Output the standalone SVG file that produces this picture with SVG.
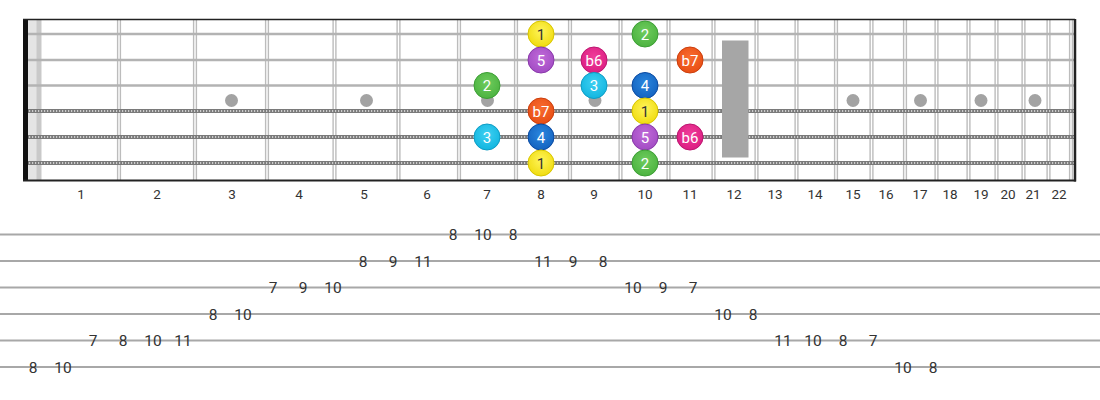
<svg xmlns="http://www.w3.org/2000/svg" width="1100" height="400" viewBox="0 0 1100 400">
<style>
.fret{stroke:#bcbcbc;stroke-width:1.4}
.plain{stroke:#b3b3b3;stroke-width:2.6}
.woundA{stroke:#7a7a7a;stroke-width:4}
.woundB{stroke:#e8e8e8;stroke-width:1.6;stroke-dasharray:1.2 1.8}
.inlay{fill:#a3a3a3}
.fnum{font-family:Roboto,"Liberation Sans",sans-serif;font-size:13.5px;fill:#333;text-anchor:middle}
.note text{font-family:Roboto,"Liberation Sans",sans-serif;font-size:15px;fill:#fff;text-anchor:middle}
.tabline{stroke:#a8a8a8;stroke-width:2}
.tab{font-family:Roboto,"Liberation Sans",sans-serif;font-size:15.5px;fill:#333;text-anchor:middle}
</style>
<defs>
<radialGradient id="gY" cx="50%" cy="40%" r="60%"><stop offset="0" stop-color="#fff45a"/><stop offset="1" stop-color="#f0dc10"/></radialGradient>
<radialGradient id="gG" cx="50%" cy="40%" r="60%"><stop offset="0" stop-color="#6fcc5e"/><stop offset="1" stop-color="#4cb340"/></radialGradient>
<radialGradient id="gC" cx="50%" cy="40%" r="60%"><stop offset="0" stop-color="#3fd0f2"/><stop offset="1" stop-color="#12b6e0"/></radialGradient>
<radialGradient id="gB" cx="50%" cy="40%" r="60%"><stop offset="0" stop-color="#2a86de"/><stop offset="1" stop-color="#1463c0"/></radialGradient>
<radialGradient id="gP" cx="50%" cy="40%" r="60%"><stop offset="0" stop-color="#c06ad8"/><stop offset="1" stop-color="#a24cc4"/></radialGradient>
<radialGradient id="gM" cx="50%" cy="40%" r="60%"><stop offset="0" stop-color="#f03e9a"/><stop offset="1" stop-color="#dc1e82"/></radialGradient>
<radialGradient id="gO" cx="50%" cy="40%" r="60%"><stop offset="0" stop-color="#f86c30"/><stop offset="1" stop-color="#e84e14"/></radialGradient>
<g id="fretline"><line class="fret" x1="-1.4" y1="20" x2="-1.4" y2="180"/><line class="fret" x1="1.4" y1="20" x2="1.4" y2="180"/></g>
</defs>
<rect width="1100" height="400" fill="#fff"/>
<g id="fretboard">
<rect x="28" y="20" width="9" height="160" fill="#e4e4e4"/>
<rect x="36.5" y="20" width="5" height="160" fill="#c9c9c9"/>
<use href="#fretline" x="119"/><use href="#fretline" x="195"/><use href="#fretline" x="267"/><use href="#fretline" x="334.5"/><use href="#fretline" x="398.5"/><use href="#fretline" x="459"/><use href="#fretline" x="516"/><use href="#fretline" x="570"/><use href="#fretline" x="620.5"/><use href="#fretline" x="668.5"/><use href="#fretline" x="713.5"/><use href="#fretline" x="756.5"/><use href="#fretline" x="796.5"/><use href="#fretline" x="836"/><use href="#fretline" x="871.5"/><use href="#fretline" x="905"/><use href="#fretline" x="936.5"/><use href="#fretline" x="968.5"/><use href="#fretline" x="996.5"/><use href="#fretline" x="1023.5"/><use href="#fretline" x="1048.5"/><use href="#fretline" x="1071"/>
<circle class="inlay" cx="231.5" cy="100.5" r="6.5"/>
<circle class="inlay" cx="366.5" cy="100.5" r="6.5"/>
<circle class="inlay" cx="487.5" cy="100.5" r="6.5"/>
<circle class="inlay" cx="595" cy="100.5" r="6.5"/>
<circle class="inlay" cx="853" cy="100.5" r="6.5"/>
<circle class="inlay" cx="920.5" cy="100.5" r="6.5"/>
<circle class="inlay" cx="981" cy="100.5" r="6.5"/>
<circle class="inlay" cx="1035" cy="100.5" r="6.5"/>
<line class="plain" x1="23" y1="34" x2="1075" y2="34"/>
<line class="plain" x1="23" y1="60" x2="1075" y2="60"/>
<line class="plain" x1="23" y1="85.5" x2="1075" y2="85.5"/>
<line class="woundA" x1="23" y1="111" x2="1075" y2="111"/><line class="woundB" x1="23" y1="111" x2="1075" y2="111"/>
<line class="woundA" x1="23" y1="137" x2="1075" y2="137"/><line class="woundB" x1="23" y1="137" x2="1075" y2="137"/>
<line class="woundA" x1="23" y1="163" x2="1075" y2="163"/><line class="woundB" x1="23" y1="163" x2="1075" y2="163"/>
<rect x="722" y="40.5" width="26.5" height="117" fill="#a6a6a6"/>
<rect x="23" y="19" width="5" height="162" fill="#111"/>
<line x1="23" y1="19.5" x2="1075" y2="19.5" stroke="#222" stroke-width="1.5"/>
<line x1="23" y1="180.5" x2="1076" y2="180.5" stroke="#222" stroke-width="2"/>
<line x1="1075" y1="19" x2="1075" y2="181.5" stroke="#222" stroke-width="2.5"/>
</g>
<g id="fret-numbers">
<text class="fnum" x="81" y="199">1</text><text class="fnum" x="157" y="199">2</text><text class="fnum" x="232" y="199">3</text><text class="fnum" x="299" y="199">4</text><text class="fnum" x="364" y="199">5</text><text class="fnum" x="427" y="199">6</text><text class="fnum" x="487" y="199">7</text><text class="fnum" x="541" y="199">8</text><text class="fnum" x="594" y="199">9</text><text class="fnum" x="645" y="199">10</text><text class="fnum" x="690" y="199">11</text><text class="fnum" x="734" y="199">12</text><text class="fnum" x="775" y="199">13</text><text class="fnum" x="815" y="199">14</text><text class="fnum" x="853" y="199">15</text><text class="fnum" x="886" y="199">16</text><text class="fnum" x="920" y="199">17</text><text class="fnum" x="950" y="199">18</text><text class="fnum" x="981" y="199">19</text><text class="fnum" x="1008" y="199">20</text><text class="fnum" x="1033" y="199">21</text><text class="fnum" x="1059" y="199">22</text>
</g>
<g id="notes">
<g id="n-s1-f8" class="note"><circle cx="541" cy="34" r="13" fill="url(#gY)" stroke="#d8c600" stroke-width="1"/><text x="541" y="39.5" style="fill:#333">1</text></g>
<g id="n-s1-f10" class="note"><circle cx="645" cy="34" r="13" fill="url(#gG)" stroke="#3c9e34" stroke-width="1"/><text x="645" y="39.5">2</text></g>
<g id="n-s2-f8" class="note"><circle cx="541" cy="60" r="13" fill="url(#gP)" stroke="#8a38aa" stroke-width="1"/><text x="541" y="65.5">5</text></g>
<g id="n-s2-f9" class="note"><circle cx="594" cy="60" r="13" fill="url(#gM)" stroke="#bc1670" stroke-width="1"/><text x="594" y="65.5">b6</text></g>
<g id="n-s2-f11" class="note"><circle cx="690" cy="60" r="13" fill="url(#gO)" stroke="#cc3e0c" stroke-width="1"/><text x="690" y="65.5">b7</text></g>
<g id="n-s3-f7" class="note"><circle cx="487" cy="85.5" r="13" fill="url(#gG)" stroke="#3c9e34" stroke-width="1"/><text x="487" y="91">2</text></g>
<g id="n-s3-f9" class="note"><circle cx="594" cy="85.5" r="13" fill="url(#gC)" stroke="#0e9cc4" stroke-width="1"/><text x="594" y="91">3</text></g>
<g id="n-s3-f10" class="note"><circle cx="645" cy="85.5" r="13" fill="url(#gB)" stroke="#0a4aa2" stroke-width="1"/><text x="645" y="91">4</text></g>
<g id="n-s4-f8" class="note"><circle cx="541" cy="111" r="13" fill="url(#gO)" stroke="#cc3e0c" stroke-width="1"/><text x="541" y="116.5">b7</text></g>
<g id="n-s4-f10" class="note"><circle cx="645" cy="111" r="13" fill="url(#gY)" stroke="#d8c600" stroke-width="1"/><text x="645" y="116.5" style="fill:#333">1</text></g>
<g id="n-s5-f7" class="note"><circle cx="487" cy="137" r="13" fill="url(#gC)" stroke="#0e9cc4" stroke-width="1"/><text x="487" y="142.5">3</text></g>
<g id="n-s5-f8" class="note"><circle cx="541" cy="137" r="13" fill="url(#gB)" stroke="#0a4aa2" stroke-width="1"/><text x="541" y="142.5">4</text></g>
<g id="n-s5-f10" class="note"><circle cx="645" cy="137" r="13" fill="url(#gP)" stroke="#8a38aa" stroke-width="1"/><text x="645" y="142.5">5</text></g>
<g id="n-s5-f11" class="note"><circle cx="690" cy="137" r="13" fill="url(#gM)" stroke="#bc1670" stroke-width="1"/><text x="690" y="142.5">b6</text></g>
<g id="n-s6-f8" class="note"><circle cx="541" cy="163" r="13" fill="url(#gY)" stroke="#d8c600" stroke-width="1"/><text x="541" y="168.5" style="fill:#333">1</text></g>
<g id="n-s6-f10" class="note"><circle cx="645" cy="163" r="13" fill="url(#gG)" stroke="#3c9e34" stroke-width="1"/><text x="645" y="168.5">2</text></g>
</g>
<g id="tab-lines">
<line class="tabline" x1="0" y1="234.5" x2="1100" y2="234.5"/>
<line class="tabline" x1="0" y1="261" x2="1100" y2="261"/>
<line class="tabline" x1="0" y1="287.5" x2="1100" y2="287.5"/>
<line class="tabline" x1="0" y1="314" x2="1100" y2="314"/>
<line class="tabline" x1="0" y1="340.5" x2="1100" y2="340.5"/>
<line class="tabline" x1="0" y1="367" x2="1100" y2="367"/>
</g>
<g id="tab-numbers">
<text class="tab" x="33" y="372.5">8</text><text class="tab" x="63" y="372.5">10</text>
<text class="tab" x="93" y="346">7</text><text class="tab" x="123" y="346">8</text><text class="tab" x="153" y="346">10</text><text class="tab" x="183" y="346">11</text>
<text class="tab" x="213" y="319.5">8</text><text class="tab" x="243" y="319.5">10</text>
<text class="tab" x="273" y="293">7</text><text class="tab" x="303" y="293">9</text><text class="tab" x="333" y="293">10</text>
<text class="tab" x="363" y="266.5">8</text><text class="tab" x="393" y="266.5">9</text><text class="tab" x="423" y="266.5">11</text>
<text class="tab" x="453" y="240">8</text><text class="tab" x="483" y="240">10</text><text class="tab" x="513" y="240">8</text>
<text class="tab" x="543" y="266.5">11</text><text class="tab" x="573" y="266.5">9</text><text class="tab" x="603" y="266.5">8</text>
<text class="tab" x="633" y="293">10</text><text class="tab" x="663" y="293">9</text><text class="tab" x="693" y="293">7</text>
<text class="tab" x="723" y="319.5">10</text><text class="tab" x="753" y="319.5">8</text>
<text class="tab" x="783" y="346">11</text><text class="tab" x="813" y="346">10</text><text class="tab" x="843" y="346">8</text><text class="tab" x="873" y="346">7</text>
<text class="tab" x="903" y="372.5">10</text><text class="tab" x="933" y="372.5">8</text>
</g>
</svg>
